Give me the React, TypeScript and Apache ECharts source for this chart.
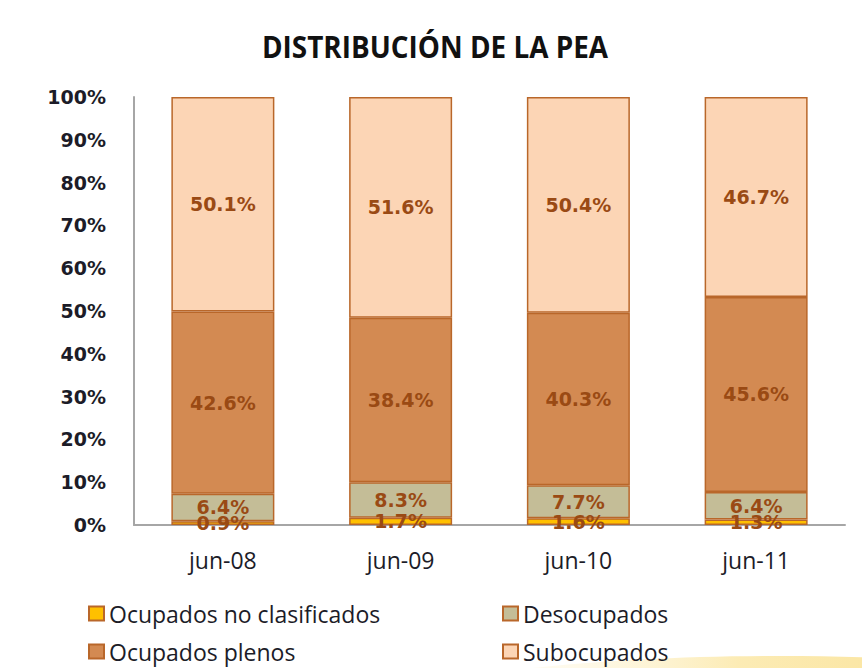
import React, { useEffect, useRef } from "react";
import * as echarts from "echarts";

const categories = ["jun-08", "jun-09", "jun-10", "jun-11"];
const seriesNames = ["Ocupados no clasificados", "Desocupados", "Ocupados plenos", "Subocupados"];
const ocupadosNoClasificados = [0.9, 1.7, 1.6, 1.3];
const desocupados = [6.4, 8.3, 7.7, 6.4];
const ocupadosPlenos = [42.6, 38.4, 40.3, 45.6];
const subocupados = [50.1, 51.6, 50.4, 46.7];
const titleText = "DISTRIBUCIÓN DE LA PEA";

const colors = ["#FFC000", "#C4BD97", "#D38A52", "#FCD5B5"];
const borderColor = "#B9672A";
const labelColor = "#9A4A14";

export default function App() {
  const ref = useRef<HTMLDivElement>(null);
  useEffect(() => {
    if (!ref.current) return;
    const chart = echarts.init(ref.current, null, { renderer: "svg" });
    const values = [ocupadosNoClasificados, desocupados, ocupadosPlenos, subocupados];
    const series = values.map((data, i) => ({
      name: seriesNames[i],
      type: "bar",
      stack: "total",
      barWidth: 103,
      data,
      itemStyle: { color: colors[i], borderColor, borderWidth: 1.5 },
      label: {
        show: true,
        position: "inside",
        formatter: (p: any) => p.value.toFixed(1) + "%",
        color: labelColor,
        fontFamily: "DejaVu Sans",
        fontWeight: "bold",
        fontSize: 19,
      },
    }));
    const legendPos = [
      { left: 83, top: 597 },
      { left: 497, top: 597 },
      { left: 83, top: 635 },
      { left: 497, top: 635 },
    ];
    chart.setOption({
      animation: false,
      backgroundColor: "#ffffff",
      graphic: [
        {
          type: "ellipse",
          shape: { cx: 780, cy: 712, rx: 400, ry: 56 },
          style: {
            fill: new echarts.graphic.LinearGradient(0, 0, 1, 0, [
              { offset: 0, color: "rgba(255,255,255,0)" },
              { offset: 0.45, color: "rgba(250,222,130,0.6)" },
              { offset: 1, color: "rgba(246,210,100,0.85)" },
            ]),
          },
          z: -10,
          silent: true,
        },
        {
          type: "text",
          x: 435,
          y: 46,
          scaleX: 0.93,
          style: {
            text: titleText,
            fontFamily: "Open Sans",
            fontWeight: "bold",
            fontSize: 30,
            fill: "#111111",
            align: "center",
            verticalAlign: "middle",
          },
        },
      ],
      legend: seriesNames.map((n, i) => ({
        data: [n],
        left: legendPos[i].left,
        top: legendPos[i].top,
        itemWidth: 15,
        itemHeight: 14,
        itemGap: 10,
        icon: "rect",
        selectedMode: false,
        textStyle: { fontFamily: "Open Sans", fontSize: 23, color: "#1c1c28", padding: [0, 0, 0, 0] },
      })),
      grid: { left: 134, right: 17, top: 97, bottom: 143, containLabel: false },
      xAxis: {
        type: "category",
        data: categories,
        axisLine: { show: true, lineStyle: { color: "#a6a6a6", width: 2 } },
        axisTick: { show: false },
        axisLabel: {
          margin: 23,
          fontFamily: "Open Sans",
          fontSize: 23,
          fontWeight: 500,
          color: "#1c1c28",
        },
      },
      yAxis: {
        type: "value",
        min: 0,
        max: 100,
        interval: 10,
        axisLine: { show: true, lineStyle: { color: "#a6a6a6", width: 2 } },
        axisTick: { show: false },
        splitLine: { show: false },
        axisLabel: {
          formatter: "{value}%",
          margin: 28,
          fontFamily: "DejaVu Sans",
          fontWeight: "bold",
          fontSize: 19,
          color: "#1c1c28",
        },
      },
      series,
    });
    return () => chart.dispose();
  }, []);
  return (
    <div
      ref={ref}
      style={{ position: "fixed", left: 0, top: 0, width: 862, height: 668 }}
    />
  );
}
